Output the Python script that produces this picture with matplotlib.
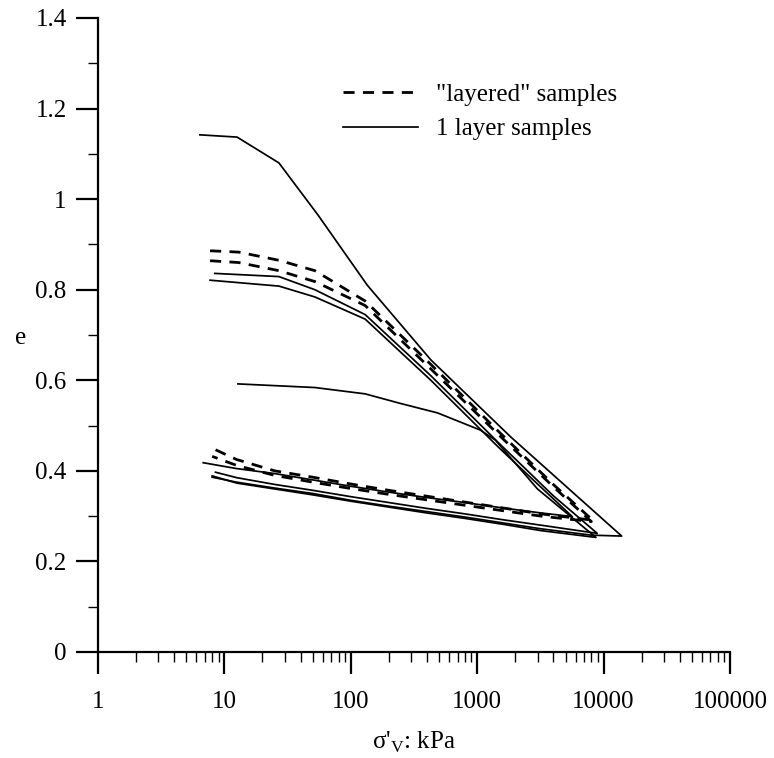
import matplotlib
matplotlib.use("Agg")
import matplotlib.pyplot as plt
from matplotlib.lines import Line2D
from matplotlib.ticker import FixedLocator, NullFormatter, LogLocator

plt.rcParams['font.family'] = ['Liberation Serif', 'DejaVu Serif']
plt.rcParams['mathtext.fontset'] = 'custom'
plt.rcParams['mathtext.rm'] = 'Liberation Serif'

# ---- data: "layered" samples (dashed) ----
d1_p = [7.7, 13, 27, 52, 130, 430, 1500, 4000, 8200, 3200, 1600, 800, 400, 200, 100, 50, 25, 12.5, 8]
d1_e = [0.886, 0.883, 0.865, 0.842, 0.775, 0.635, 0.485, 0.37, 0.291, 0.305, 0.318, 0.331, 0.344, 0.357, 0.371, 0.386, 0.400, 0.425, 0.450]

d2_p = [7.7, 13, 27, 52, 130, 430, 1500, 4000, 8000, 3200, 1600, 800, 400, 200, 100, 50, 25, 12.5, 8]
d2_e = [0.864, 0.860, 0.842, 0.818, 0.765, 0.625, 0.478, 0.365, 0.288, 0.300, 0.312, 0.324, 0.336, 0.348, 0.361, 0.375, 0.390, 0.412, 0.432]

# ---- data: 1 layer samples (solid) ----
a_p = [6.4, 12.6, 27, 55, 135, 430, 1840, 13900, 8000, 3200, 1600, 800, 400, 200, 100, 50, 25, 12.5, 8]
a_e = [1.142, 1.137, 1.080, 0.965, 0.810, 0.645, 0.475, 0.256, 0.258, 0.272, 0.285, 0.298, 0.310, 0.322, 0.335, 0.350, 0.362, 0.375, 0.386]

s2_p = [8.4, 27, 52, 130, 430, 1500, 4000, 8900, 3200, 1600, 800, 400, 200, 100, 50, 25, 12.5, 8.5]
s2_e = [0.836, 0.829, 0.800, 0.745, 0.610, 0.460, 0.345, 0.262, 0.280, 0.292, 0.305, 0.317, 0.330, 0.343, 0.357, 0.370, 0.385, 0.397]

s3_p = [7.7, 27, 52, 130, 430, 1500, 5650, 3200, 1600, 800, 400, 200, 100, 50, 25, 12.5, 6.8]
s3_e = [0.821, 0.808, 0.784, 0.735, 0.600, 0.450, 0.299, 0.307, 0.318, 0.330, 0.341, 0.353, 0.366, 0.380, 0.394, 0.405, 0.418]

s4_p = [12.8, 52, 130, 246, 485, 1060, 1390, 3000, 8700, 3200, 1600, 800, 400, 200, 100, 50, 25, 12.5, 8]
s4_e = [0.592, 0.584, 0.570, 0.549, 0.528, 0.490, 0.468, 0.360, 0.253, 0.268, 0.282, 0.295, 0.307, 0.320, 0.333, 0.347, 0.360, 0.373, 0.389]

x_ticks = [1, 10, 100, 1000, 10000, 100000]
x_labels = ["1", "10", "100", "1000", "10000", "100000"]
y_ticks = [0, 0.2, 0.4, 0.6, 0.8, 1.0, 1.2, 1.4]
y_labels = ["0", "0.2", "0.4", "0.6", "0.8", "1", "1.2", "1.4"]

fig = plt.figure(figsize=(7.74, 7.58), dpi=100)
ax = fig.add_axes([98/774, 1-652/758, (730-98)/774, (652-18)/758])

dash_kw = dict(color='black', lw=2.0, dashes=(4, 3))
solid_kw = dict(color='black', lw=1.25)
for p, e in [(d1_p, d1_e), (d2_p, d2_e)]:
    ax.plot(p, e, **dash_kw)
for p, e in [(a_p, a_e), (s2_p, s2_e), (s3_p, s3_e), (s4_p, s4_e)]:
    ax.plot(p, e, **solid_kw)

ax.set_xscale('log')
ax.set_xlim(1, 100000)
ax.set_ylim(0, 1.4)
ax.spines['top'].set_visible(False)
ax.spines['right'].set_visible(False)
for s in ['left', 'bottom']:
    ax.spines[s].set_linewidth(1.6)

ax.xaxis.set_major_locator(FixedLocator(x_ticks))
ax.set_xticklabels(x_labels)
ax.xaxis.set_minor_locator(LogLocator(base=10, subs=range(2, 10)))
ax.xaxis.set_minor_formatter(NullFormatter())
ax.set_yticks(y_ticks)
ax.set_yticklabels(y_labels)
ax.yaxis.set_minor_locator(FixedLocator([0.1, 0.3, 0.5, 0.7, 0.9, 1.1, 1.3]))

ax.tick_params(which='major', direction='out', length=15.5, width=1.6, labelsize=18, pad=7)
ax.tick_params(which='minor', direction='out', length=7.5, width=1.0)
ax.tick_params(axis='x', which='major', pad=12.5)

ax.set_xlabel(r"σ'$_{\mathregular{V}}$: kPa", fontsize=18, labelpad=12.5)
ax.set_ylabel("e", fontsize=18, rotation=0, labelpad=0)
ax.yaxis.set_label_coords(-0.122, 0.495, transform=ax.transAxes)
ax.yaxis.label.set_verticalalignment('center')

handles = [Line2D([], [], **dash_kw), Line2D([], [], **solid_kw)]
leg = ax.legend(handles, ['"layered" samples', '1 layer samples'], loc='upper left',
                bbox_to_anchor=(343/774, 1-83/758), bbox_transform=fig.transFigure,
                frameon=False, fontsize=18, handlelength=3.0, handletextpad=0.7,
                borderpad=0, borderaxespad=0, labelspacing=0.5)

fig.savefig('out.png', dpi=100)
